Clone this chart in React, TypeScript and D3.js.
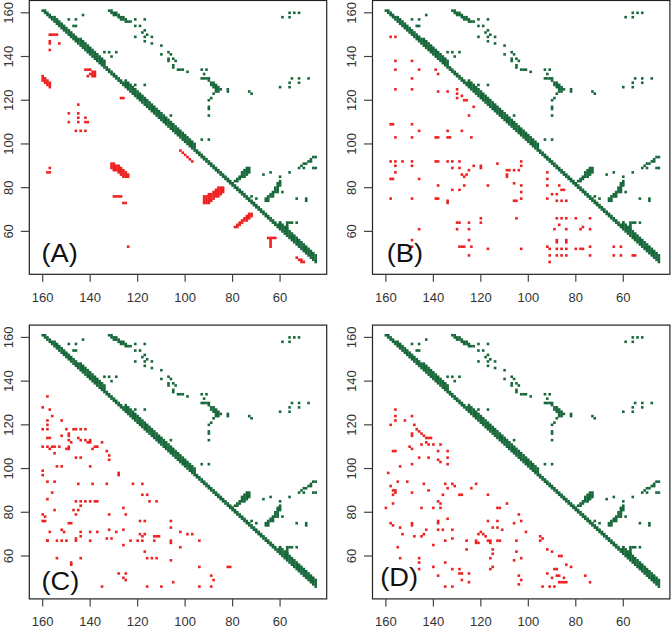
import React from 'react';
import * as d3 from 'd3';

// ---------- data (residue indices) ----------
const TICKS = [60, 80, 100, 120, 140, 160];
const PANEL_LABELS = ['(A)', '(B)', '(C)', '(D)'];
const RES_MIN = 45;
const RES_MAX = 161;

// near-diagonal band: [fromResidue, toResidue, max sequence separation]
const DIAG_SEGMENTS: [number, number, number][] = [
  [45, 60, 4], [61, 95, 2], [96, 125, 4], [126, 133, 2], [134, 144, 4], [145, 155, 3], [156, 160, 2],
];

// green (native) contacts off the band [i, j]
const GREEN_POINTS: [number, number][] = [
  [149, 157], [146, 157], [143, 159], [147, 154], [146, 154],
  [132, 161], [131, 161], [131, 160], [130, 160], [130, 159], [129, 159], [129, 160], [128, 159], [128, 158], [127, 158], [127, 157], [126, 158], [126, 157], [125, 157], [125, 156], [124, 156], [123, 156],
  [121, 157], [117, 157], [121, 154], [119, 154], [117, 152], [118, 151], [116, 150], [121, 149], [117, 149], [114, 149], [117, 147], [114, 146], [110, 145], [110, 141], [107, 142], [106, 141], [107, 139], [105, 139], [107, 138], [104, 138], [105, 136], [105, 135], [103, 134], [102, 134], [101, 134], [99, 133],
  [93, 134], [91, 134], [92, 132], [93, 130], [92, 130], [91, 130], [90, 130], [90, 129], [89, 128], [88, 128], [89, 127], [88, 127], [87, 127], [88, 126], [87, 126], [86, 126], [87, 125], [86, 125], [85, 125], [87, 124], [86, 124], [82, 125], [82, 124], [88, 123], [89, 121], [90, 120], [90, 117], [90, 116], [90, 113],
  [73, 124], [72, 123],
  [59, 158], [56, 158], [56, 160], [54, 160], [52, 160],
  [55, 130], [52, 130], [48, 130], [56, 128], [52, 128], [60, 126], [56, 126],
  [125, 127], [121, 127], [117, 127],
  [134, 142], [132, 142], [129, 142], [131, 140],
  [106, 113], [93, 102], [90, 102],
  [80, 82], [79, 83], [78, 83], [78, 84], [77, 84], [77, 85], [76, 85], [76, 86], [76, 87], [75, 85], [75, 86], [75, 87], [75, 88], [74, 86], [74, 87], [74, 88], [74, 89], [73, 87], [73, 88], [73, 89],
  [72, 76], [70, 75], [67, 86], [64, 87], [60, 85],
  [66, 74], [66, 75], [65, 74], [65, 75], [65, 76], [64, 76], [64, 77], [63, 76], [63, 77], [63, 78], [62, 78], [62, 79], [62, 80], [61, 79], [61, 80], [61, 81], [61, 82], [60, 81], [60, 82], [60, 83], [61, 78], [59, 78],
  [56, 87], [52, 89], [51, 90], [50, 91], [49, 91], [48, 92], [47, 92], [47, 93], [46, 94], [45, 94], [50, 89], [46, 89], [45, 89],
  [53, 75], [49, 75], [49, 74],
  [60, 64], [57, 64], [56, 64], [55, 64], [53, 64], [57, 63], [57, 62], [57, 61],
];

// red (predicted) contacts, panel A: single points + column runs [i, jFrom, jTo]
const RED_A: [number, number][] = [
  [157, 150], [156, 150], [155, 150], [154, 150], [157, 147], [157, 146], [153, 146], [157, 143],
  [160, 131], [160, 130], [159, 130], [160, 129], [159, 129], [158, 129], [159, 128], [158, 128], [157, 128], [158, 127], [157, 127], [157, 126],
  [142, 134], [141, 134], [140, 134], [139, 133], [138, 133], [140, 132], [139, 132], [138, 132], [138, 131], [141, 131], [139, 131],
  [127, 121], [126, 121],
  [145, 118], [149, 114], [145, 114], [145, 112], [142, 112], [149, 110], [145, 110], [142, 110], [141, 110], [146, 106], [144, 106], [142, 106],
  [157, 89], [158, 87], [157, 87],
  [130, 76], [129, 76], [128, 76], [127, 76], [126, 73], [125, 73],
  [124, 53],
  [102, 97], [101, 96], [100, 95], [99, 94], [98, 93], [97, 92],
  [65, 57], [64, 57], [63, 57], [62, 57], [64, 56], [64, 55], [64, 54], [64, 53],
  [53, 48], [52, 47], [51, 47], [51, 46], [50, 46],
];
const RED_A_RUNS: [number, number, number][] = [
  [131, 89, 91], [130, 88, 91], [129, 88, 90], [128, 87, 90], [127, 86, 89], [126, 85, 88], [125, 85, 87], [124, 85, 86],
  [92, 73, 76], [91, 73, 76], [90, 73, 77], [89, 74, 77], [88, 75, 78], [87, 76, 79], [86, 76, 80], [85, 77, 80], [84, 78, 80],
  [79, 62, 62], [78, 62, 63], [77, 63, 64], [76, 64, 65], [75, 65, 66], [74, 65, 67], [73, 66, 68], [72, 67, 68],
];

const RED_B: [number, number][] = [
  [158, 149], [156, 149],
  [156, 138], [149, 138],
  [156, 134], [146, 134], [139, 134], [138, 132],
  [149, 130],
  [156, 125], [149, 125], [138, 124], [134, 124],
  [130, 125], [130, 123], [130, 121], [128, 122], [127, 120], [126, 120],
  [123, 117], [125, 113],
  [158, 109], [157, 109], [149, 109],
  [146, 106], [134, 106], [128, 106],
  [156, 103], [149, 103], [139, 103], [138, 103], [134, 103], [133, 103], [124, 103],
  [158, 92], [156, 92], [153, 92], [149, 92], [139, 92], [138, 92], [134, 92], [132, 92], [129, 92],
  [156, 90], [149, 90], [132, 89], [129, 89], [123, 90], [120, 90], [113, 91],
  [120, 89], [125, 88], [109, 88], [108, 88], [106, 88], [104, 88], [103, 92], [103, 90],
  [156, 87], [128, 86], [127, 85], [109, 86], [109, 85], [126, 86],
  [158, 84], [157, 84], [146, 84],
  [138, 81], [127, 81], [117, 81], [106, 82], [103, 81],
  [132, 79], [129, 79], [103, 78],
  [158, 75], [149, 75], [139, 75], [138, 75], [134, 74], [134, 73], [106, 74], [105, 74], [103, 75],
  [105, 66],
  [130, 64], [129, 64], [125, 64], [120, 66], [120, 64],
  [130, 61], [125, 61], [146, 61],
  [125, 56],
  [129, 53], [128, 53], [127, 53], [124, 53], [117, 52], [103, 52],
  [125, 49],
  [149, 56], [149, 53],
  [92, 87], [92, 84], [92, 81], [87, 81], [86, 79], [90, 77], [88, 77], [85, 79],
  [92, 75], [88, 74], [86, 74], [84, 74],
  [88, 66], [86, 66], [84, 66], [80, 66], [74, 66],
  [87, 63],
  [89, 61], [84, 61], [78, 61], [77, 62], [74, 61],
  [88, 56], [84, 56], [88, 55], [84, 55],
  [92, 53], [91, 52], [88, 52], [86, 52], [84, 52], [80, 52], [78, 52], [77, 52], [74, 53],
  [91, 49], [88, 49], [86, 49], [84, 49], [74, 49],
  [91, 46],
  [64, 53], [61, 53], [64, 49], [61, 49], [56, 49], [55, 49],
];

const RED_C: [number, number][] = [
  [158, 133], [160, 128], [157, 127], [156, 124], [158, 122], [160, 118], [158, 118], [158, 120], [158, 114], [157, 114],
  [160, 110], [158, 110], [157, 109], [156, 110], [155, 107],
  [160, 99], [160, 97], [154, 101], [152, 101], [158, 94], [155, 94], [156, 89], [158, 86], [155, 81],
  [160, 79], [159, 78], [160, 76], [159, 76], [157, 71], [158, 67], [154, 59],
  [152, 122], [150, 118], [147, 118], [146, 118], [144, 118], [142, 118], [149, 116], [149, 115], [152, 115], [145, 114], [144, 113], [142, 113], [140, 113], [149, 113], [148, 112], [141, 112], [140, 112],
  [155, 110], [153, 110], [150, 109], [149, 109], [149, 110],
  [146, 105], [144, 105], [135, 112], [137, 110], [133, 108], [139, 109], [138, 110], [132, 106], [132, 104], [140, 101], [128, 98], [128, 97],
  [139, 93], [133, 93], [145, 93], [122, 93], [118, 93], [118, 88], [116, 88], [112, 85], [115, 85],
  [146, 85], [144, 85], [142, 85], [140, 85], [138, 85], [137, 85],
  [144, 83], [147, 81], [145, 81], [146, 79], [132, 79], [126, 82], [125, 79],
  [149, 75], [148, 75], [152, 72], [151, 71], [144, 71], [140, 71], [137, 71], [132, 72], [129, 71], [126, 72],
  [158, 67], [154, 67], [152, 67], [150, 67], [146, 67], [146, 68], [144, 69], [140, 67], [133, 68], [131, 68], [126, 65],
  [123, 67], [120, 67], [118, 67], [119, 70], [118, 69], [117, 70], [119, 76], [117, 76],
  [113, 69], [112, 69], [111, 69], [113, 67], [117, 62], [116, 59], [114, 59], [112, 59],
  [106, 76], [106, 73], [106, 67], [106, 66], [102, 71], [99, 70], [97, 70], [94, 67], [102, 64], [106, 58], [94, 55],
  [82, 55], [81, 55], [89, 51], [88, 49], [94, 46], [89, 46], [105, 48], [110, 46], [116, 46],
  [125, 52], [126, 50], [125, 49], [128, 52], [135, 46], [148, 57], [148, 56], [144, 59],
];

const RED_D: [number, number][] = [
  [156, 127], [156, 124], [156, 122], [158, 120], [149, 124], [152, 122], [148, 120], [147, 118], [146, 117], [149, 116], [149, 115], [145, 116], [144, 115], [143, 114], [142, 114], [141, 114], [143, 112], [142, 111], [145, 111], [140, 111], [137, 111],
  [157, 108], [156, 108], [150, 110], [149, 109], [146, 105], [142, 105], [138, 108], [138, 104], [137, 103], [134, 108], [134, 105], [134, 102], [149, 102], [154, 101], [159, 98],
  [158, 92], [157, 90], [156, 90], [157, 88], [157, 84], [160, 82], [155, 94], [151, 94], [156, 89], [149, 89], [144, 93], [142, 90], [138, 85], [137, 84], [140, 82], [137, 82], [136, 88], [134, 91], [132, 93], [131, 92], [129, 88], [128, 88], [135, 93], [145, 82], [124, 91], [122, 93], [117, 88], [113, 82], [112, 82], [109, 84],
  [117, 76], [115, 73], [113, 76], [111, 72], [106, 75], [104, 79], [103, 76], [105, 67], [101, 71],
  [158, 75], [157, 74], [154, 73], [149, 75], [149, 74], [153, 70], [148, 69], [145, 69], [144, 70], [143, 72], [138, 76], [138, 75], [138, 72], [136, 72], [134, 77], [132, 72], [132, 68], [135, 67], [140, 65],
  [155, 64], [154, 59], [146, 59], [146, 57], [146, 54], [140, 55], [138, 51], [135, 57], [135, 46], [132, 46], [132, 54], [129, 54], [129, 52], [128, 52], [125, 52], [128, 49], [125, 48],
  [126, 63], [126, 67], [122, 67], [122, 66], [121, 66], [121, 70], [120, 71], [119, 70], [118, 69], [117, 67], [116, 67], [116, 66],
  [115, 63], [115, 61], [116, 59], [113, 67], [112, 67], [115, 55], [116, 54], [113, 73],
  [105, 62], [103, 59], [106, 58], [104, 51], [103, 49], [104, 47],
  [95, 69], [94, 68], [95, 67], [92, 63], [90, 62], [87, 60], [86, 60], [89, 54], [88, 54], [92, 52], [90, 50], [88, 51], [87, 51], [85, 50], [84, 56], [82, 55], [87, 48], [86, 48], [85, 48], [84, 48], [94, 46], [91, 46], [89, 46], [76, 51], [74, 48],
];

// ---------- layout ----------
const W = 671;
const H = 630;
const BOX = { left: 29.3, right: 326.7, top: 0.5, bottom: 274.3 };
const OFFSETS: [number, number][] = [[0, 0], [343.2, 0], [0, 324.6], [343.2, 324.6]];
const LABEL_POS: [number, number][] = [[41.5, 262], [43.5, 262], [41.5, 265.5], [37, 261.5]];
const GREEN = '#17683a';
const RED = '#ee2020';
const PAD = (RES_MAX - RES_MIN) * 0.04;

function expandRuns(runs: [number, number, number][]): [number, number][] {
  return runs.flatMap(([i, a, b]) => d3.range(a, b + 1).map((j) => [i, j] as [number, number]));
}

export default function App() {
  const x = d3.scaleLinear().domain([RES_MAX + PAD, RES_MIN - PAD]).range([BOX.left, BOX.right]);
  const y = d3.scaleLinear().domain([RES_MAX + PAD, RES_MIN - PAD]).range([BOX.top, BOX.bottom]);

  const band: [number, number][] = DIAG_SEGMENTS.flatMap(([a, b, w]) =>
    d3.range(a, b + 1).flatMap((i) =>
      d3.range(1, w + 1).filter((d) => i + d <= RES_MAX).map((d) => [i, i + d] as [number, number])
    )
  );
  const green = [...band, ...GREEN_POINTS];
  const reds = [[...RED_A, ...expandRuns(RED_A_RUNS)], RED_B, RED_C, RED_D];
  const s = 2.6;

  return (
    <svg width={W} height={H} style={{ position: 'absolute', left: 0, top: 0, background: '#fff' }}>
      <rect x={0} y={0} width={W} height={H} fill="#fff" />
      {OFFSETS.map(([dx, dy], p) => (
        <g key={p} transform={`translate(${dx},${dy})`}>
          {green.map(([i, j], k) => (
            <rect key={'g' + k} x={x(i) - s / 2} y={y(j) - s / 2} width={s} height={s} fill={GREEN} />
          ))}
          {reds[p].map(([i, j], k) => (
            <rect key={'r' + k} x={x(i) - s / 2} y={y(j) - s / 2} width={s} height={s} fill={RED} />
          ))}
          <rect x={BOX.left} y={BOX.top} width={BOX.right - BOX.left} height={BOX.bottom - BOX.top} fill="none" stroke="#222" strokeWidth={1.2} />
          {TICKS.map((t) => (
            <g key={'x' + t}>
              <line x1={x(t)} x2={x(t)} y1={BOX.bottom} y2={BOX.bottom + 7.5} stroke="#444" strokeWidth={1.2} />
              <text x={x(t)} y={301.5} textAnchor="middle" fontFamily="'Liberation Sans', Arial, sans-serif" fontSize={13} fill="#333">{t}</text>
            </g>
          ))}
          {TICKS.map((t) => (
            <g key={'y' + t}>
              <line x1={BOX.left - 8.5} x2={BOX.left} y1={y(t)} y2={y(t)} stroke="#444" strokeWidth={1.2} />
              <text transform={`translate(12.5,${y(t)}) rotate(-90)`} textAnchor="middle" fontFamily="'Liberation Sans', Arial, sans-serif" fontSize={13} fill="#333">{t}</text>
            </g>
          ))}
          <text transform={`translate(${LABEL_POS[p][0]},${LABEL_POS[p][1]}) scale(1.09,1)`} fontFamily="'Liberation Sans', Arial, sans-serif" fontSize={25} fill="#111">{PANEL_LABELS[p]}</text>
        </g>
      ))}
    </svg>
  );
}
